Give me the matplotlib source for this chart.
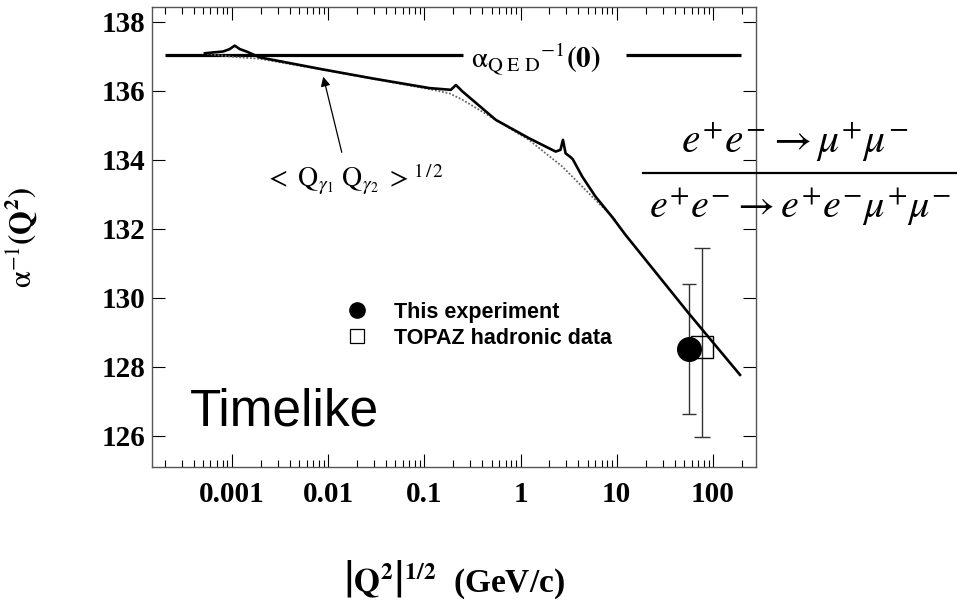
import numpy as np
import matplotlib.pyplot as plt
from matplotlib.lines import Line2D

plt.rcParams['mathtext.fontset'] = 'stix'
plt.rcParams['font.family'] = ['Liberation Serif', 'DejaVu Serif']

# running alpha^-1 in the timelike region (thick curve)
q_run = [5.25e-4, 8.1e-4, 9.5e-4, 1.07e-3, 1.21e-3, 1.42e-3, 1.95e-3, 8.5e-3, 0.029,
         0.113, 0.189, 0.213, 0.25, 0.553, 1.22, 2.32, 2.6, 2.76, 2.94, 3.31, 3.49,
         4.37, 6.0, 8.93, 12.3, 55.7, 191]
a_run = [137.09, 137.14, 137.21, 137.31, 137.21, 137.14, 136.97, 136.63, 136.36,
         136.08, 136.03, 136.17, 135.98, 135.16, 134.63, 134.24, 134.29, 134.58, 134.19, 134.08, 134.02,
         133.52, 132.94, 132.35, 131.83, 129.56, 127.77]

# <Q_g1 Q_g2>^1/2 curve (thin dotted)
q_qq = [5.5e-4, 1.07e-3, 1.95e-3, 8.5e-3, 0.029, 0.113, 0.182, 0.25, 0.553, 1.22, 2.71, 6.0, 9.7]
a_qq = [137.07, 136.98, 136.93, 136.62, 136.35, 136.05, 135.93, 135.74, 135.16, 134.58, 133.81, 132.84, 132.26]

# alpha_QED^-1(0) line, two pieces around the label
alpha0 = 137.036
qed_left = [2.0e-4, 0.254]
qed_right = [12.4, 197]

# data points
this_q, this_a, this_lo, this_hi = 55.7, 128.51, 126.63, 130.40
topaz_q, topaz_a, topaz_lo, topaz_hi = 77.3, 128.59, 125.98, 131.44

fig = plt.figure(figsize=(9.57, 6.03), dpi=100)
ax = fig.add_axes([152/957, 1-467/603, 604/957, 460/603])

ax.plot(qed_left, [alpha0, alpha0], color='black', lw=2.3, solid_capstyle='butt')
ax.plot(qed_right, [alpha0, alpha0], color='black', lw=2.3, solid_capstyle='butt')
ax.plot(q_qq, a_qq, color='#666666', lw=1.3, linestyle=(0, (1, 1)))
ax.plot(q_run, a_run, color='black', lw=1.9, zorder=4)

ax.errorbar(this_q, this_a, yerr=[[this_a - this_lo], [this_hi - this_a]], fmt='o', color='black',
            ms=17, ecolor='#333333', elinewidth=1, capsize=5, capthick=1, zorder=3)
ax.errorbar(topaz_q, topaz_a, yerr=[[topaz_a - topaz_lo], [topaz_hi - topaz_a]], fmt='s', mfc='none',
            mec='black', mew=1, ms=16, ecolor='#333333', elinewidth=1, capsize=5.5, capthick=1, zorder=2)

ax.set_xscale('log')
ax.set_xlim(1.48e-4, 280)
ax.set_ylim(125.1, 138.43)
ax.set_yticks([126, 128, 130, 132, 134, 136, 138])
ax.set_xticks([0.001, 0.01, 0.1, 1, 10, 100])
ax.set_xticklabels(['0.001', '0.01', '0.1', '1', '10', '100'])
ax.minorticks_on()
ax.yaxis.set_minor_locator(plt.NullLocator())
ax.tick_params(which='both', direction='in', top=True, right=True, width=0.8)
ax.tick_params(which='major', length=9.5)
ax.tick_params(which='minor', length=5)
ax.tick_params(axis='x', which='major', pad=10)
ax.tick_params(axis='y', which='major', pad=5)
for lab in ax.get_xticklabels() + ax.get_yticklabels():
    lab.set_fontsize(21)
    lab.set_fontweight('bold')
for s in ax.spines.values():
    s.set_linewidth(1.0)
    s.set_color('#555555')

ax.set_ylabel(r'$\mathrm{\alpha}^{-1}\mathbf{(Q^2)}$', fontsize=22)
ax.yaxis.set_label_coords(-0.185, 0.5)
ax.set_xlabel(r'$\mathbf{\left|Q^2\right|^{1/2}}$  (GeV/c)', fontsize=24, fontweight='bold')
ax.xaxis.set_label_coords(0.5, -0.2)

ax.text(1.45, 136.9, r'$\mathrm{\alpha}_{\mathrm{Q\ E\ D}}{}^{-1}\mathbf{(0)}$', fontsize=21,
        ha='center', va='center')
ax.text(0.0188, 133.42, r'$<\ \mathrm{Q}_{\gamma_1}\ \mathrm{Q}_{\gamma_2}\ >^{1\,/\,2}$', fontsize=20,
        ha='center', va='center')
ax.annotate('', xy=(8.77e-3, 136.49), xytext=(0.0141, 134.14),
            arrowprops=dict(arrowstyle='-|>', color='black', lw=0.9, mutation_scale=14))
ax.text(3.7e-4, 126.3, 'Timelike', family='Liberation Sans', fontsize=37, ha='left', va='baseline')

handles = [Line2D([], [], marker='o', color='black', ls='none', ms=11),
           Line2D([], [], marker='s', mfc='none', mec='black', mew=0.9, ls='none', ms=10)]
ax.legend(handles, ['This experiment', 'TOPAZ hadronic data'], loc='upper left',
          bbox_to_anchor=(349/957, 1-302/603), bbox_transform=fig.transFigure, frameon=False,
          prop={'family': 'Liberation Sans', 'weight': 'bold', 'size': 15.5},
          handlelength=0.7, handletextpad=1.4, labelspacing=0.22, borderpad=0, borderaxespad=0)

# reaction ratio written to the right of the axes
fig.text(795/957, 1-153/603, r'$e^{+}e^{-}\rightarrow\mu^{+}\mu^{-}$', fontsize=30,
         ha='center', va='baseline')
fig.text(800/957, 1-218/603, r'$e^{+}e^{-}\rightarrow e^{+}e^{-}\mu^{+}\mu^{-}$', fontsize=29,
         ha='center', va='baseline')
fig.add_artist(Line2D([643/957, 1.0], [1-173/603, 1-173/603], transform=fig.transFigure,
                      color='black', lw=1.6))

fig.savefig('out.png', dpi=100)
